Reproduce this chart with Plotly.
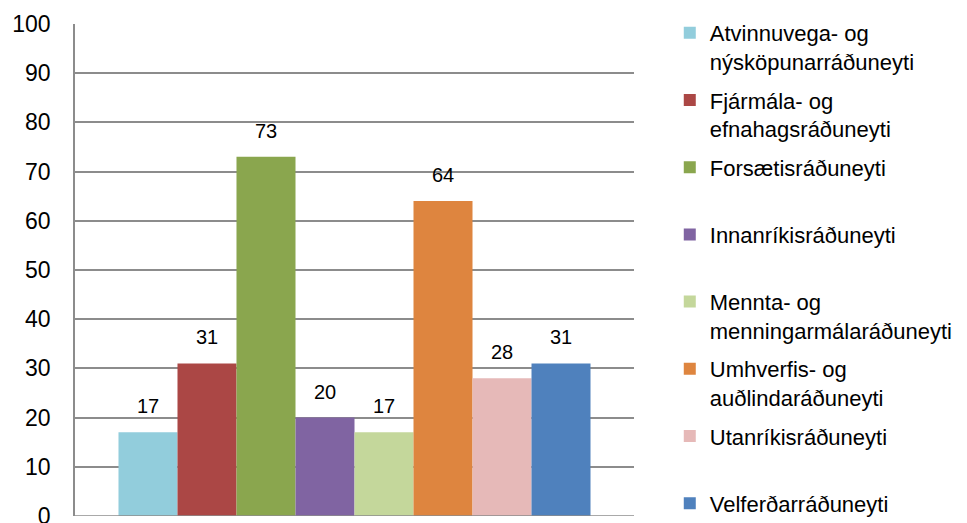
import plotly.graph_objects as go

ministries = [
    "Atvinnuvega- og<br>nýsköpunarráðuneyti",
    "Fjármála- og<br>efnahagsráðuneyti",
    "Forsætisráðuneyti<br> ",
    "Innanríkisráðuneyti<br> ",
    "Mennta- og<br>menningarmálaráðuneyti",
    "Umhverfis- og<br>auðlindaráðuneyti",
    "Utanríkisráðuneyti<br> ",
    "Velferðarráðuneyti",
]
values = [17, 31, 73, 20, 17, 64, 28, 31]
colors = ["#92CDDC", "#AB4745", "#8AA64E", "#8064A2", "#C4D79B", "#DE853F", "#E6B9B8", "#4F81BD"]
y_ticks = [0, 10, 20, 30, 40, 50, 60, 70, 80, 90, 100]

fig = go.Figure()
for i, (name, v, c) in enumerate(zip(ministries, values, colors)):
    fig.add_trace(go.Bar(
        x=[i], y=[v], name=name, width=1.0,
        marker=dict(color=c, line=dict(width=0)),
        legendgroup=str(i),
    ))
    fig.add_annotation(x=i, y=v, text=str(v), showarrow=False,
                       yanchor="middle", yshift=26,
                       font=dict(family="Liberation Sans", size=20, color="#000"))

fig.update_layout(
    width=959, height=523,
    margin=dict(l=67, r=333, t=16, b=15, autoexpand=False),
    paper_bgcolor="white", plot_bgcolor="white",
    showlegend=True,
    legend=dict(
        x=1.064, xanchor="left", xref="paper",
        y=1.0 - 4 / 523, yanchor="top", yref="container",
        font=dict(family="Liberation Sans", size=22, color="#000"),
        valign="top", tracegroupgap=7,
        itemwidth=30, maxheight=520,
        bgcolor="rgba(0,0,0,0)",
    ),
    xaxis=dict(range=[-1.237, 8.237], showticklabels=False, showgrid=False,
               zeroline=False, showline=False, fixedrange=True, automargin=False),
    yaxis=dict(range=[0, 100], tickvals=y_ticks, showgrid=True, gridcolor="#8C8C8C",
               gridwidth=1.5, zeroline=False, showline=True, linecolor="#8C8C8C",
               linewidth=1.5, ticks="", ticklabelstandoff=18, automargin=False,
               tickfont=dict(family="Liberation Sans", size=23, color="#000")),
    font=dict(family="Liberation Sans"),
)
fig.add_shape(type="line", xref="paper", yref="y", x0=0, x1=1, y0=0, y1=0,
              line=dict(color="#8C8C8C", width=1.5))

fig.write_html("out.html")
